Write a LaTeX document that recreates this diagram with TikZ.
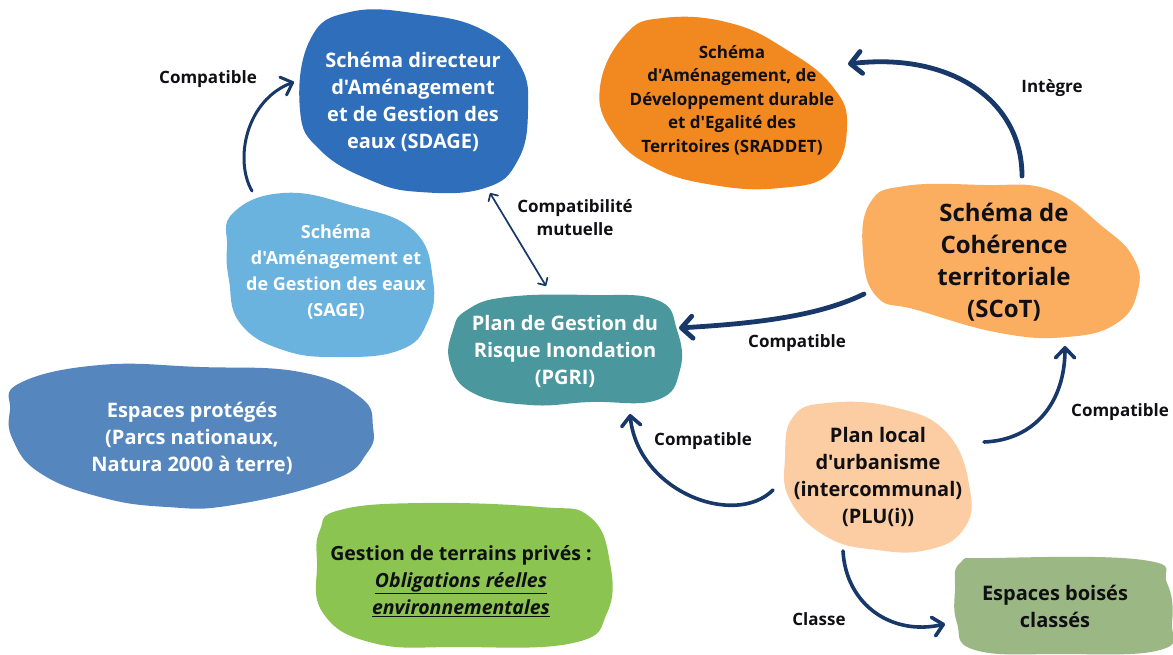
\documentclass[tikz,border=0pt]{standalone}
\usepackage{fontspec}
\newfontfamily\osans{Open Sans}
\usetikzlibrary{arrows.meta}
\definecolor{sdagec}{RGB}{47,110,186}
\definecolor{sagec}{RGB}{106,179,223}
\definecolor{protc}{RGB}{85,134,190}
\definecolor{pgric}{RGB}{74,151,157}
\definecolor{sraddetc}{RGB}{242,136,32}
\definecolor{scotc}{RGB}{251,174,96}
\definecolor{pluc}{RGB}{252,205,162}
\definecolor{boisc}{RGB}{155,183,131}
\definecolor{privc}{RGB}{139,196,80}
\definecolor{navy}{RGB}{23,56,104}
\definecolor{ink}{RGB}{15,15,20}
\begin{document}
\begin{tikzpicture}[x=1pt,y=-1pt,
  blob/.style={smooth cycle,tension=0.75},
  btext/.style={align=center,inner sep=0pt,font=\osans\bfseries\fontsize{20}{27}\selectfont},
  lbl/.style={align=center,inner sep=0pt,text=ink,font=\osans\bfseries\fontsize{17}{23}\selectfont},
  link/.style={draw=navy,line width=3.6pt,line cap=round,
    -{Straight Barb[length=10pt,width=19pt,round]}},
  biglink/.style={draw=navy,line width=4.8pt,line cap=round,
    -{Straight Barb[length=11pt,width=22pt,round]}},
  thinlink/.style={draw=navy,line width=1.7pt,line cap=round,
    {Straight Barb[length=5.5pt,width=11pt,round]}-{Straight Barb[length=5.5pt,width=11pt,round]}}]
\useasboundingbox (0,0) rectangle (1173,655);
\fill[white] (0,0) rectangle (1173,655);

% blobs
\fill[sdagec] plot[blob] coordinates {(310,40) (350,12) (420,14) (483,30) (520,65) (528,110) (518,160) (485,188) (420,192) (370,180) (320,150) (300,110)};
\fill[sagec] plot[blob] coordinates {(233,213) (283,193) (350,205) (413,230) (433,280) (427,323) (400,350) (340,357) (283,350) (240,323) (229,280) (227,247)};
\fill[sraddetc] plot[blob] coordinates {(600,87) (625,35) (663,18) (730,23) (787,50) (833,87) (847,127) (830,173) (780,188) (713,185) (653,167) (613,133)};
\fill[scotc] plot[blob] coordinates {(870,203) (905,186) (983,185) (1050,190) (1103,227) (1133,257) (1138,290) (1117,323) (1067,337) (1000,333) (917,310) (877,297) (863,253)};
\fill[pgric] plot[blob] coordinates {(467,310) (507,297) (590,295) (657,300) (677,330) (680,370) (657,400) (590,402) (530,405) (473,393) (450,363) (453,330)};
\fill[protc] plot[blob] coordinates {(20,383) (100,365) (200,367) (300,372) (360,397) (373,427) (367,453) (333,480) (233,505) (167,507) (100,497) (40,473) (13,440) (10,410)};
\fill[privc] plot[blob] coordinates {(340,510) (423,503) (540,507) (590,517) (610,563) (607,613) (573,643) (457,647) (373,643) (323,613) (317,563) (320,530)};
\fill[pluc] plot[blob] coordinates {(793,417) (827,403) (893,407) (947,433) (970,490) (963,530) (927,550) (877,550) (827,537) (790,500) (785,457)};
\fill[boisc] plot[blob] coordinates {(960,563) (993,558) (1143,560) (1167,583) (1172,623) (1160,650) (1060,654) (975,650) (957,623) (955,590)};

% blob texts
\node[btext,text=white] (sdage) at (413,102) {Schéma directeur\\d'Aménagement\\et de Gestion des\\eaux (SDAGE)};
\node[btext,text=white,font=\osans\bfseries\fontsize{18}{26.3}\selectfont] (sage) at (336,272) {Schéma\\d'Aménagement et\\de Gestion des eaux\\(SAGE)};
\node[btext,text=ink,font=\osans\bfseries\fontsize{17}{23.5}\selectfont] (sraddet) at (732,100) {Schéma\\d'Aménagement, de\\Développement durable\\et d'Egalité des\\Territoires (SRADDET)};
\node[btext,text=ink,font=\osans\bfseries\fontsize{24}{32}\selectfont] (scot) at (1004,262) {Schéma de\\Cohérence\\territoriale\\(SCoT)};
\node[btext,text=white] (pgri) at (565,351) {Plan de Gestion du\\Risque Inondation\\(PGRI)};
\node[btext,text=white] (prot) at (192,438) {Espaces protégés\\(Parcs nationaux,\\Natura 2000 à terre)};
\node[btext,text=ink,font=\osans\bfseries\fontsize{19.5}{27}\selectfont] (priv) at (461,581) {Gestion de terrains privés :\\{\itshape\underline{Obligations réelles}}\\{\itshape\underline{environnementales}}};
\node[btext,text=ink] (plu) at (878,477) {Plan local\\d'urbanisme\\(intercommunal)\\(PLU(i))};
\node[btext,text=ink] (bois) at (1055,606) {Espaces boisés\\classés};

% connector end points on the blob outlines
\coordinate (sage-n) at (252,191);
\coordinate (sdage-w) at (294,82);
\coordinate (sdage-s) at (490,193);
\coordinate (pgri-n) at (546,286);
\coordinate (scot-n) at (1022,176);
\coordinate (sraddet-e) at (848,64);
\coordinate (scot-w) at (864,294);
\coordinate (pgri-e) at (679,328);
\coordinate (plu-w) at (773,490);
\coordinate (pgri-s) at (630,414);
\coordinate (plu-e) at (984,442);
\coordinate (scot-s) at (1065,346);
\coordinate (plu-s) at (843,551);
\coordinate (bois-w) at (945,624);

% connectors
\draw[link,line width=3pt] (sage-n) .. controls (234,160) and (246,100) .. (sdage-w);
\draw[thinlink] (sdage-s) -- (pgri-n);
\draw[biglink] (scot-n) .. controls (1022,100) and (950,52) .. (sraddet-e);
\draw[biglink] (scot-w) .. controls (815,318) and (745,324) .. (pgri-e);
\draw[link] (plu-w) .. controls (735,528) and (638,492) .. (pgri-s);
\draw[link] (plu-e) .. controls (1035,440) and (1065,402) .. (scot-s);
\draw[link] (plu-s) .. controls (846,605) and (892,636) .. (bois-w);

% connector labels
\node[lbl] (l-sage) at (208,79) {Compatible};
\node[lbl] (l-mut) at (575,218) {Compatibilité\\mutuelle};
\node[lbl] (l-int) at (1052,88) {Intègre};
\node[lbl] (l-scot) at (797,343) {Compatible};
\node[lbl] (l-plu) at (703,441) {Compatible};
\node[lbl] (l-plu2) at (1120,412) {Compatible};
\node[lbl] (l-cls) at (819,619) {Classe};
\end{tikzpicture}
\end{document}
